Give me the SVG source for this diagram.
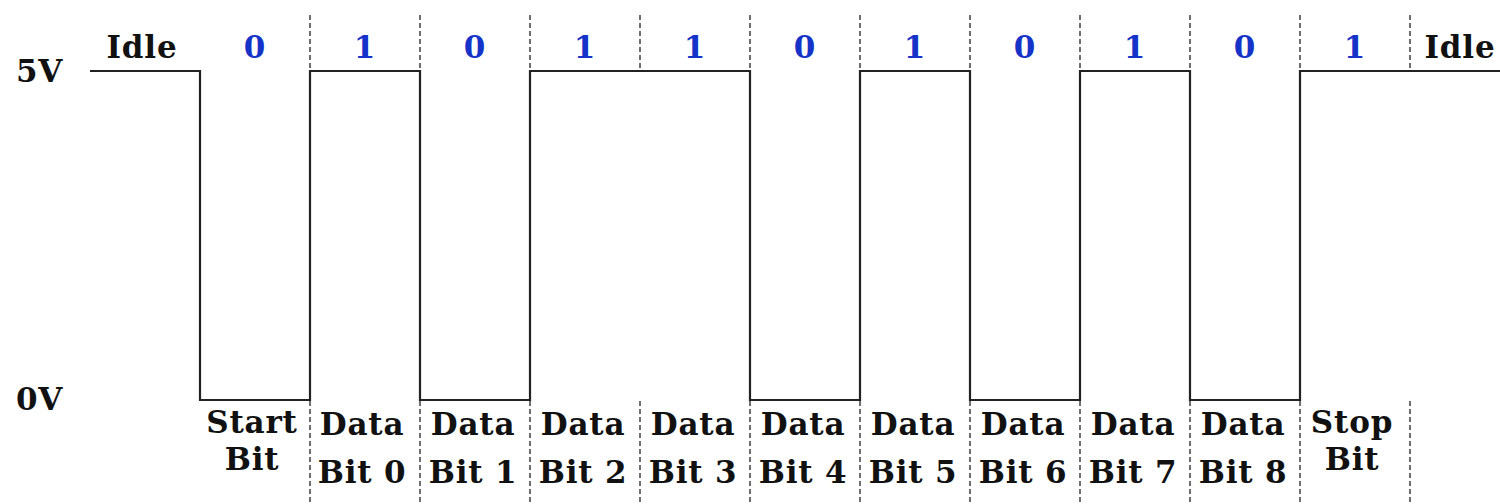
<svg xmlns="http://www.w3.org/2000/svg" width="1500" height="504" viewBox="0 0 1500 504">
<style>
.t{font-family:"DejaVu Serif","Liberation Serif",serif;font-weight:bold;font-size:31px;letter-spacing:0.8px;fill:#111;}
.c{text-anchor:middle;}
.b{fill:#1533c8;}
.d{stroke:#6e6e6e;stroke-width:2;stroke-dasharray:5 3;fill:none;}
.s{stroke:#222;stroke-width:2.2;fill:none;}
</style>
<rect width="1500" height="504" fill="#fff"/>
<g id="grid">
<path class="d" d="M310,15V70M420,15V70M530,15V70M640,15V70M750,15V70M860,15V70M970,15V70M1080,15V70M1190,15V70M1300,15V70M1410,15V70"/>
<path class="d" d="M310,401V504M420,401V504M530,401V504M640,401V504M750,401V504M860,401V504M970,401V504M1080,401V504M1190,401V504M1300,401V504M1410,401V504"/>
</g>
<g id="signal">
<path class="s" d="M90,71H200V400H310V71H420V400H530V71H750V400H860V71H970V400H1080V71H1190V400H1300V71H1500"/>
</g>
<g id="levels">
<text class="t" x="16" y="82">5V</text>
<text class="t" x="16" y="410">0V</text>
</g>
<g id="top-labels">
<text class="t c" x="142" y="58">Idle</text>
<text class="t c b" x="255" y="58">0</text>
<text class="t c b" x="365" y="58">1</text>
<text class="t c b" x="475" y="58">0</text>
<text class="t c b" x="585" y="58">1</text>
<text class="t c b" x="695" y="58">1</text>
<text class="t c b" x="805" y="58">0</text>
<text class="t c b" x="915" y="58">1</text>
<text class="t c b" x="1025" y="58">0</text>
<text class="t c b" x="1135" y="58">1</text>
<text class="t c b" x="1245" y="58">0</text>
<text class="t c b" x="1355" y="58">1</text>
<text class="t c" x="1460" y="58">Idle</text>
</g>
<g id="bottom-labels">
<text class="t c" x="252" y="433">Start</text><text class="t c" x="252" y="470">Bit</text>
<text class="t c" x="362" y="435">Data</text><text class="t c" x="362" y="483">Bit 0</text>
<text class="t c" x="473" y="435">Data</text><text class="t c" x="473" y="483">Bit 1</text>
<text class="t c" x="583" y="435">Data</text><text class="t c" x="583" y="483">Bit 2</text>
<text class="t c" x="693" y="435">Data</text><text class="t c" x="693" y="483">Bit 3</text>
<text class="t c" x="803" y="435">Data</text><text class="t c" x="803" y="483">Bit 4</text>
<text class="t c" x="913" y="435">Data</text><text class="t c" x="913" y="483">Bit 5</text>
<text class="t c" x="1023" y="435">Data</text><text class="t c" x="1023" y="483">Bit 6</text>
<text class="t c" x="1133" y="435">Data</text><text class="t c" x="1133" y="483">Bit 7</text>
<text class="t c" x="1243" y="435">Data</text><text class="t c" x="1243" y="483">Bit 8</text>
<text class="t c" x="1352" y="433">Stop</text><text class="t c" x="1352" y="470">Bit</text>
</g>
</svg>
